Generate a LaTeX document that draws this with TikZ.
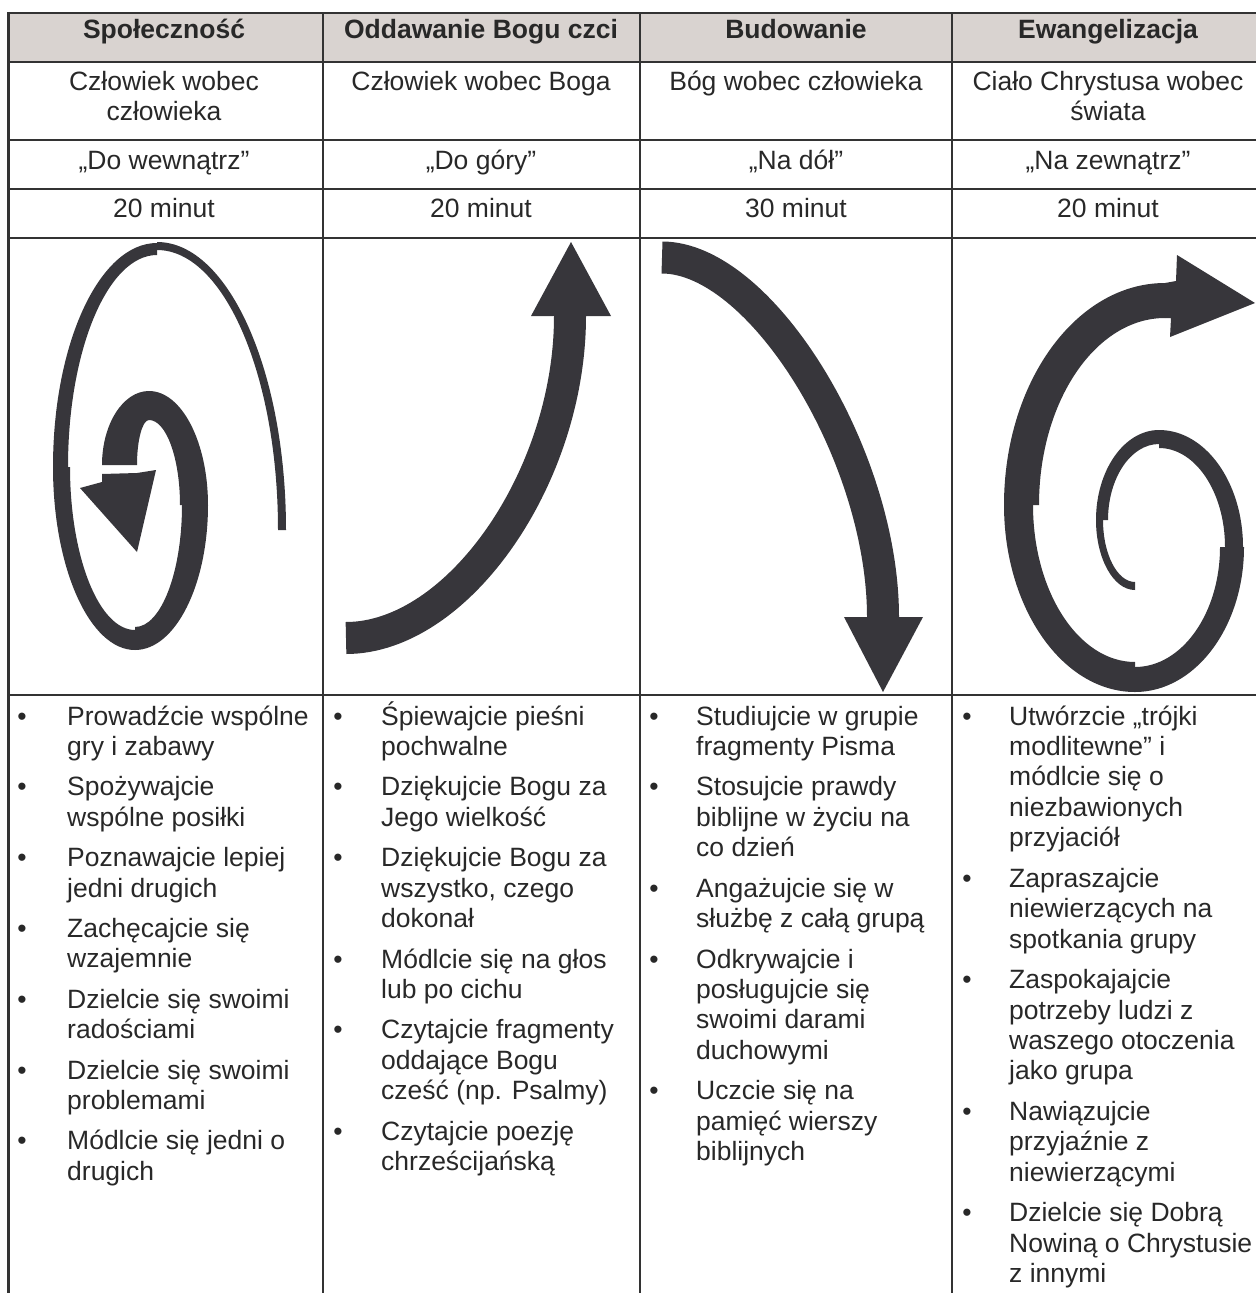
\documentclass[tikz,border=0pt]{standalone}
\usepackage{fontspec}
\setmainfont{Liberation Sans}
\usepackage{tikz}
\usetikzlibrary{calc}
\usepackage{xcolor}

\definecolor{linia}{RGB}{51,51,51}
\definecolor{tlo}{RGB}{217,211,208}
\definecolor{ciemny}{RGB}{55,54,59}
\definecolor{tekst}{RGB}{40,40,40}

\tikzset{
  naglowek/.style={anchor=base, font=\fontsize{26.5}{30.4}\selectfont\bfseries, text=tekst, inner sep=0pt},
  komorka/.style={anchor=base, align=center, text=tekst, inner sep=0pt},
  punkt/.style={anchor=base west, align=left, text=tekst, inner sep=0pt},
  kropka/.style={anchor=base, text=tekst, inner sep=0pt},
  ramka/.style={draw=linia, line width=2.5pt},
  strzalka/.style={fill=ciemny},
  trzon/.style={draw=ciemny, line width=32pt},
}

% one piece of a spiral: centre, from angle, to angle, outer radii, inner radii
\newcommand{\wycinek}[8]{%
  \fill[strzalka] ($(#1,#2)+(#3:#5 and #6)$) arc[start angle=#3, end angle=#4, x radius=#5, y radius=#6]
    -- ($(#1,#2)+(#4:#7 and #8)$) arc[start angle=#4, end angle=#3, x radius=#7, y radius=#8] -- cycle;}

\begin{document}
\begin{tikzpicture}[x=1pt, y=-1pt, font=\fontsize{26.5}{30.4}\selectfont]
\useasboundingbox (0,0) rectangle (1256,1293);

% table
\fill [tlo] (8.5,13) rectangle (1256,62);
\draw [ramka] (8.5,13)--(1256,13);
\draw [ramka] (8.5,62)--(1256,62);
\draw [ramka] (8.5,140)--(1256,140);
\draw [ramka] (8.5,189)--(1256,189);
\draw [ramka] (8.5,238)--(1256,238);
\draw [ramka] (8.5,695)--(1256,695);
\draw [ramka] (8.5,11.75)--(8.5,1293);
\draw [ramka] (323,13)--(323,1293);
\draw [ramka] (640,13)--(640,1293);
\draw [ramka] (952,13)--(952,1293);

% header (multi-line nodes sit on their last line)
\node [naglowek] (h1) at (164,38) {Społeczność};
\node [naglowek] (h2) at (481,38) {Oddawanie Bogu czci};
\node [naglowek] (h3) at (796,38) {Budowanie};
\node [naglowek] (h4) at (1108,38) {Ewangelizacja};

\node [komorka] (o1) at (164,120.4) {Człowiek wobec\\człowieka};
\node [komorka] (o2) at (481,90) {Człowiek wobec Boga};
\node [komorka] (o3) at (796,90) {Bóg wobec człowieka};
\node [komorka] (o4) at (1108,120.4) {Ciało Chrystusa wobec\\świata};

\node [komorka] (k1) at (164,169) {„Do wewnątrz”};
\node [komorka] (k2) at (481,169) {„Do góry”};
\node [komorka] (k3) at (796,169) {„Na dół”};
\node [komorka] (k4) at (1108,169) {„Na zewnątrz”};

\node [komorka] (c1) at (164,217) {20 minut};
\node [komorka] (c2) at (481,217) {20 minut};
\node [komorka] (c3) at (796,217) {30 minut};
\node [komorka] (c4) at (1108,217) {20 minut};

% arrow 1: inward spiral
\wycinek{157}{530}{0}{-90}{129}{288}{121}{280}
\wycinek{157}{467}{-90}{-180}{104}{224}{89}{212}
\wycinek{135}{467}{180}{90}{82}{183}{65}{163}
\wycinek{135}{505}{90}{0}{73}{145}{47}{122}
\wycinek{149}{505}{0}{-90}{59}{114}{31}{85}
\wycinek{149}{465}{-90}{-180}{47}{74}{12}{45}
\fill [strzalka] (102,474)--(137,473)--(156,470)--(137,552)--(80,488)--(102,482)--cycle;

% arrow 2: up
\coordinate (g0) at (346,638);
\coordinate (g1) at (570,316);
\draw [trzon] (g0) .. controls +(112,0) and +(0,161) .. (g1);
\fill [strzalka] (531,316)--(611,316)--(571,242)--cycle;

% arrow 3: down
\coordinate (d0) at (662,257.5);
\coordinate (d1) at (883,617);
\draw [trzon] (d0) .. controls +(99,0) and +(0,-162) .. (d1);
\fill [strzalka] (844,617)--(923,617)--(883,692)--cycle;

% arrow 4: outward spiral
\wycinek{1135}{520}{90}{180}{39}{70}{32}{62}
\wycinek{1159}{520}{180}{270}{63}{90}{51}{76}
\wycinek{1159}{547}{270}{360}{84}{117}{66}{99}
\wycinek{1135}{547}{0}{90}{109}{145}{85}{120}
\wycinek{1135}{505}{90}{180}{131}{187}{102}{157}
\wycinek{1165}{505}{180}{270}{161}{222}{126}{187}
\fill [strzalka] (1165,283)--(1176,281)--(1177,255)--(1255,303)--(1170,337)--(1171,318)--(1165,318)--cycle;

% lists
\node [kropka] (b1a) at (22,725) {•};
\node [punkt] (p1a) at (67,755.4) {Prowadźcie wspólne\\gry i zabawy};
\node [kropka] (b1b) at (22,795.8) {•};
\node [punkt] (p1b) at (67,826.2) {Spożywajcie\\wspólne posiłki};
\node [kropka] (b1c) at (22,866.6) {•};
\node [punkt] (p1c) at (67,897) {Poznawajcie lepiej\\jedni drugich};
\node [kropka] (b1d) at (22,937.4) {•};
\node [punkt] (p1d) at (67,967.8) {Zachęcajcie się\\wzajemnie};
\node [kropka] (b1e) at (22,1008.2) {•};
\node [punkt] (p1e) at (67,1038.6) {Dzielcie się swoimi\\radościami};
\node [kropka] (b1f) at (22,1079) {•};
\node [punkt] (p1f) at (67,1109.4) {Dzielcie się swoimi\\problemami};
\node [kropka] (b1g) at (22,1149.8) {•};
\node [punkt] (p1g) at (67,1180.2) {Módlcie się jedni o\\drugich};

\node [kropka] (b2a) at (338,725) {•};
\node [punkt] (p2a) at (381,755.4) {Śpiewajcie pieśni\\pochwalne};
\node [kropka] (b2b) at (338,795.8) {•};
\node [punkt] (p2b) at (381,826.2) {Dziękujcie Bogu za\\Jego wielkość};
\node [kropka] (b2c) at (338,866.6) {•};
\node [punkt] (p2c) at (381,927.4) {Dziękujcie Bogu za\\wszystko, czego\\dokonał};
\node [kropka] (b2d) at (338,968) {•};
\node [punkt] (p2d) at (381,998.4) {Módlcie się na głos\\lub po cichu};
\node [kropka] (b2e) at (338,1038.8) {•};
\node [punkt] (p2e) at (381,1099.6) {Czytajcie fragmenty\\oddające Bogu\\cześć (np. Psalmy)};
\node [kropka] (b2f) at (338,1140.2) {•};
\node [punkt] (p2f) at (381,1170.6) {Czytajcie poezję\\chrześcijańską};

\node [kropka] (b3a) at (654,725) {•};
\node [punkt] (p3a) at (696,755.4) {Studiujcie w grupie\\fragmenty Pisma};
\node [kropka] (b3b) at (654,795.8) {•};
\node [punkt] (p3b) at (696,856.6) {Stosujcie prawdy\\biblijne w życiu na\\co dzień};
\node [kropka] (b3c) at (654,897.2) {•};
\node [punkt] (p3c) at (696,927.6) {Angażujcie się w\\służbę z całą grupą};
\node [kropka] (b3d) at (654,968) {•};
\node [punkt] (p3d) at (696,1059.2) {Odkrywajcie i\\posługujcie się\\swoimi darami\\duchowymi};
\node [kropka] (b3e) at (654,1099.8) {•};
\node [punkt] (p3e) at (696,1160.6) {Uczcie się na\\pamięć wierszy\\biblijnych};

\node [kropka] (b4a) at (967,725) {•};
\node [punkt] (p4a) at (1009,846.6) {Utwórzcie „trójki\\modlitewne” i\\módlcie się o\\niezbawionych\\przyjaciół};
\node [kropka] (b4b) at (967,887.2) {•};
\node [punkt] (p4b) at (1009,948) {Zapraszajcie\\niewierzących na\\spotkania grupy};
\node [kropka] (b4c) at (967,988.6) {•};
\node [punkt] (p4c) at (1009,1079.8) {Zaspokajajcie\\potrzeby ludzi z\\waszego otoczenia\\jako grupa};
\node [kropka] (b4d) at (967,1120.4) {•};
\node [punkt] (p4d) at (1009,1181.2) {Nawiązujcie\\przyjaźnie z\\niewierzącymi};
\node [kropka] (b4e) at (967,1221.8) {•};
\node [punkt] (p4e) at (1009,1282.6) {Dzielcie się Dobrą\\Nowiną o Chrystusie\\z innymi};
\end{tikzpicture}
\end{document}
